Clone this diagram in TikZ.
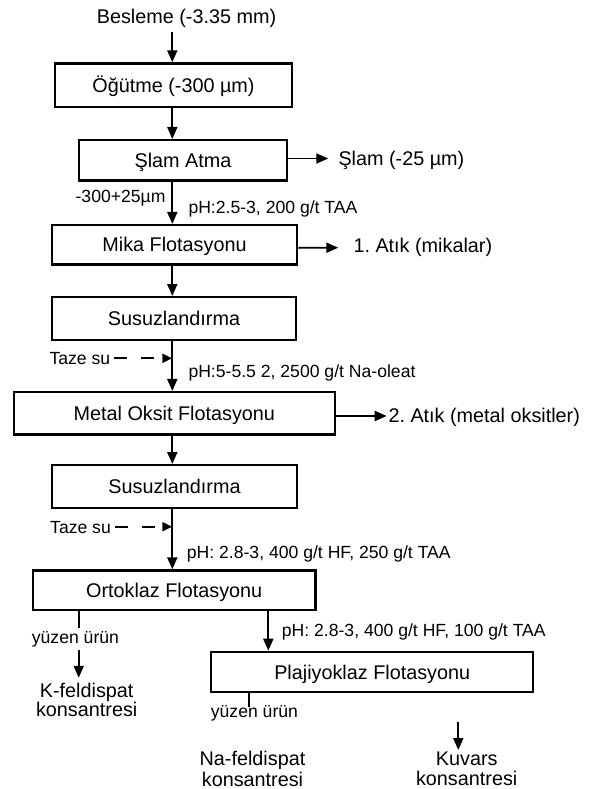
\documentclass[tikz,border=0pt]{standalone}
\usepackage{fontspec}
\setmainfont{Liberation Sans}
\usetikzlibrary{arrows.meta}
\newcommand\mainf{\fontsize{19.8pt}{22pt}\selectfont}
\newcommand\smallf{\fontsize{17.6pt}{20pt}\selectfont}
\frenchspacing
\begin{document}
\begin{tikzpicture}[x=1pt,y=-1pt,
  box/.style={draw, line width=2.4pt, inner sep=0pt, font=\mainf, text height=14.2pt, text depth=0pt},
  lblm/.style={inner sep=0pt, font=\mainf, text height=14.2pt, text depth=0pt},
  lbls/.style={inner sep=0pt, font=\smallf, text height=12.6pt, text depth=0pt},
  twoline/.style={inner sep=0pt, align=center, anchor=north},
  arr/.style={line width=1.9pt, -{Triangle[length=12pt,width=10pt]}},
  warr/.style={line width=1.9pt, dash pattern=on 13pt off 14pt, -{Triangle[length=10pt,width=9pt]}},
  tick/.style={line width=1.9pt}]
\useasboundingbox (0,0) rectangle (590,789);
\coordinate (spine) at (172.3,0);
\coordinate (px) at (268.3,0);
\coordinate (kx) at (78.7,0);
\coordinate (nx) at (249,0);
\coordinate (kuvstart) at (458.3,721.7);

% boxes
\node[box, minimum width=236.6pt, minimum height=43.6pt] (ogutme) at (173.5,85.3) {Öğütme (-300 µm)};
\node[box, minimum width=208.2pt, minimum height=40.3pt] (slam) at (183,160.3) {Şlam Atma};
\node[box, minimum width=245.2pt, minimum height=39.3pt] (mika) at (174.5,244.8) {Mika Flotasyonu};
\node[box, minimum width=244.2pt, minimum height=42.6pt] (susuz1) at (174,318.5) {Susuzlandırma};
\node[box, minimum width=320.9pt, minimum height=42.3pt] (metal) at (174.3,413.3) {Metal Oksit Flotasyonu};
\node[box, minimum width=245.2pt, minimum height=42.9pt] (susuz2) at (174.5,486.7) {Susuzlandırma};
\node[box, minimum width=282.6pt, minimum height=39.3pt] (ortoklaz) at (174.2,590.2) {Ortoklaz Flotasyonu};
\node[box, minimum width=321.9pt, minimum height=40.2pt] (plaj) at (372.2,672) {Plajiyoklaz Flotasyonu};

% labels
\node[lblm] (besleme) at (186.5,16.3) {Besleme (-3.35 mm)};
\node[lblm, anchor=west] (slamout) at (338.3,158.5) {Şlam (-25 µm)};
\node[lbls, anchor=east] (size) at (165.7,196.5) {-300+25µm};
\node[lbls, anchor=west] (ph1) at (188.3,207.5) {pH:2.5-3, 200 g/t TAA};
\node[lblm, anchor=west] (atik1) at (353.3,245.5) {1. Atık (mikalar)};
\node[lbls, anchor=west] (taze1) at (49.3,358.3) {Taze su};
\node[lbls, anchor=west] (ph2) at (188.3,371.5) {pH:5-5.5 2, 2500 g/t Na-oleat};
\node[lblm, anchor=west] (atik2) at (388.3,415) {2. Atık (metal oksitler)};
\node[lbls, anchor=west] (taze2) at (50,526.7) {Taze su};
\node[lbls, anchor=west] (ph3) at (186.7,551.7) {pH: 2.8-3, 400 g/t HF, 250 g/t TAA};
\node[lbls, anchor=west] (ph4) at (281.7,630) {pH: 2.8-3, 400 g/t HF, 100 g/t TAA};
\node[lbls, anchor=west] (yuzen1) at (31.7,636.7) {yüzen ürün};
\node[lbls, anchor=west] (yuzen2) at (210.7,711) {yüzen ürün};
\node[twoline, font=\fontsize{19.8pt}{18.5pt}\selectfont] (kfeld) at (86.7,683.3) {K-feldispat\\konsantresi};
\node[twoline, font=\fontsize{19.8pt}{20.5pt}\selectfont] (nafeld) at (252.5,751.2) {Na-feldispat\\konsantresi};
\node[twoline, font=\fontsize{19.8pt}{20pt}\selectfont] (kuvars) at (466.7,751.2) {Kuvars\\konsantresi};

% main flow
\draw[arr, shorten <=8pt] (besleme.south -| spine) -- (ogutme.north -| spine);
\draw[arr] (ogutme.south -| spine) -- (slam.north -| spine);
\draw[arr] (slam.south -| spine) -- (mika.north -| spine);
\draw[arr] (mika.south -| spine) -- (susuz1.north -| spine);
\draw[arr] (susuz1.south -| spine) -- (metal.north -| spine);
\draw[arr] (metal.south -| spine) -- (susuz2.north -| spine);
\draw[arr] (susuz2.south -| spine) -- (ortoklaz.north -| spine);
\draw[arr] (ortoklaz.south -| px) -- (plaj.north -| px);

% side outputs
\draw[arr] (slamout.west -| slam.east) -- ([xshift=-10pt]slamout.west);
\draw[arr] ([yshift=-3pt]mika.east) -- ([xshift=-15pt,yshift=-2.2pt]atik1.west);
\draw[arr] ([yshift=-2.7pt]metal.east) -- ([xshift=-1.6pt,yshift=-1pt]atik2.west);

% fresh water
\draw[warr] ([xshift=3.5pt]taze1.east) -- (taze1.east -| spine);
\draw[warr] ([xshift=4pt]taze2.east) -- (taze2.east -| spine);

% products
\draw[tick] (ortoklaz.south -| kx) -- ([yshift=2pt]yuzen1.north -| kx);
\draw[arr, shorten <=7pt] (yuzen1.south -| kx) -- ([yshift=5.5pt]kfeld.north -| kx);
\draw[tick] (plaj.south -| nx) -- ([yshift=-2pt]yuzen2.north -| nx);
\draw[arr] (kuvstart) -- ([yshift=1.2pt]kuvars.north -| kuvstart);
\end{tikzpicture}
\end{document}
